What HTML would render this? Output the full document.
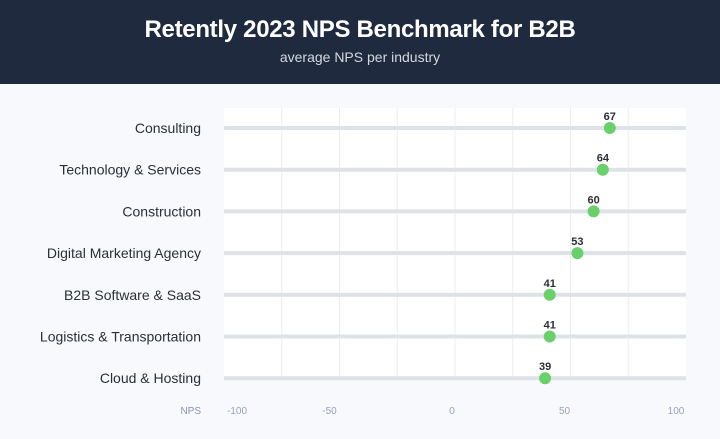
<!DOCTYPE html>
<html><head><meta charset="utf-8"><style>
body{margin:0;width:720px;height:439px;overflow:hidden;background:#f7f9fc;font-family:"Liberation Sans",sans-serif}
#hdr{position:absolute;left:0;top:0;width:720px;height:84px;background:#1f2a3e}
#hdr h1{margin:0;position:absolute;top:16px;width:720px;text-align:center;color:#fff;font-size:24px;font-weight:bold;letter-spacing:-0.3px}
#hdr p{margin:0;position:absolute;top:49px;width:720px;text-align:center;color:#d5d9e0;font-size:14px}
</style></head><body>
<div id="hdr">
<h1>Retently 2023 NPS Benchmark for B2B</h1>
<p>average NPS per industry</p>
</div>
<svg id="c" width="720" height="439" style="position:absolute;left:0;top:0"></svg>
<script>
const categories=["Consulting","Technology & Services","Construction","Digital Marketing Agency","B2B Software & SaaS","Logistics & Transportation","Cloud & Hosting"];
const npsValues=[67,64,60,53,41,41,39];
const tickLabels=[-100,-50,0,50,100];
const gridValues=[-75,-50,-25,0,25,50,75];
const ns="http://www.w3.org/2000/svg",svg=document.getElementById('c');
const x0=224,x1=686,y0=128,dy=41.7;
const xs=v=>x0+(v+100)/200*(x1-x0);
const ys=i=>y0+i*dy;
function mk(t,a,p){const e=document.createElementNS(ns,t);for(const k in a)e.setAttribute(k,a[k]);(p||svg).appendChild(e);return e;}
const plot=mk('rect',{x:x0,y:108,width:x1-x0,height:272,fill:'#ffffff'});


gridValues.forEach(v=>{const l=mk('line',{x1:xs(v),x2:xs(v),y1:108,y2:380,stroke:'#e9edf2','stroke-width':1});

});
categories.forEach((c,i)=>{
const y=ys(i);
const t=mk('text',{x:201,y:y+5,'text-anchor':'end','font-size':14,fill:'#2b2f36'});t.textContent=c;


const tr=mk('line',{x1:x0,x2:x1,y1:y,y2:y,stroke:'#dde1e8','stroke-width':4});


const v=npsValues[i];
const d=mk('circle',{cx:xs(v),cy:y,r:6,fill:'#6ad06a'});


const vl=mk('text',{x:xs(v),y:y-8,'text-anchor':'middle','font-size':11,'font-weight':'bold',fill:'#2b2f36'});vl.textContent=v;


});
const nl=mk('text',{x:201,y:414,'text-anchor':'end','font-size':10,fill:'#8a93b0'});nl.textContent='NPS';


tickLabels.forEach((v,i)=>{const t=mk('text',{x:xs(v)+(v===-100?13:v===100?-10:v===0?-3:v===50?-6:-10),y:414,'text-anchor':'middle','font-size':10,fill:'#9aa2b8'});t.textContent=v;

});
</script>
</body></html>
